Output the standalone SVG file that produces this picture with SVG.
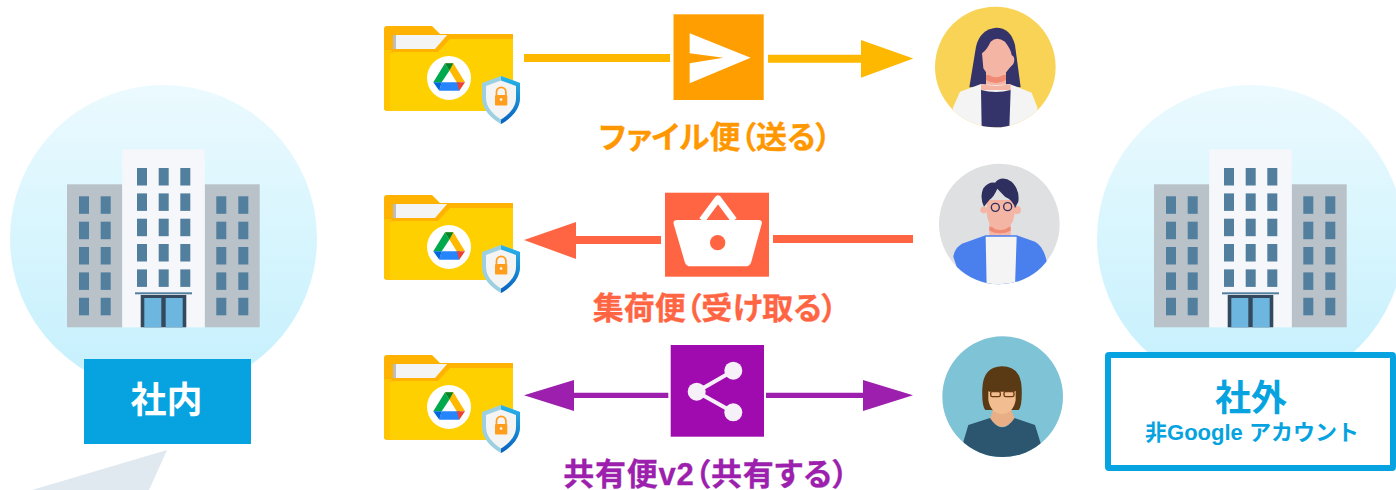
<svg xmlns="http://www.w3.org/2000/svg" xmlns:xlink="http://www.w3.org/1999/xlink" width="1396" height="490" viewBox="0 0 1396 490">
<style>
text{font-family:"Liberation Sans","Noto Sans CJK JP",sans-serif;font-weight:700;text-anchor:middle}
.cjk{font-family:"Noto Sans CJK JP","Liberation Sans",sans-serif}
.win{fill:#527f9e}
.lab{font-size:31px;font-feature-settings:"palt";font-family:"Liberation Sans","Noto Sans CJK JP",sans-serif;stroke-width:.3}
</style>
<defs>
<linearGradient id="sky" x1="0" y1="0" x2="0" y2="1"><stop offset="0" stop-color="#ebfafe"/><stop offset="1" stop-color="#c4f0fd"/></linearGradient>
<linearGradient id="shieldR" x1="0" y1="0" x2="0" y2="1"><stop offset="0" stop-color="#29b6e8"/><stop offset="1" stop-color="#0a5fc0"/></linearGradient>
<clipPath id="c1"><circle cx="226" cy="201" r="181"/></clipPath>
<clipPath id="c2"><circle cx="238" cy="672" r="181"/></clipPath>
<clipPath id="c3"><circle cx="248" cy="230" r="181"/></clipPath>
<g id="building">
<rect x="67" y="184.3" width="55.3" height="143" fill="#b8c2c8"/>
<rect x="204.7" y="184.3" width="55" height="143" fill="#b8c2c8"/>
<rect x="122.3" y="149.3" width="82.4" height="178" fill="#f5f7fa"/>
<g class="win">
<rect x="79" y="196.3" width="10" height="17.5"/><rect x="100.7" y="196.3" width="10" height="17.5"/>
<rect x="79" y="221.7" width="10" height="17.5"/><rect x="100.7" y="221.7" width="10" height="17.5"/>
<rect x="79" y="247" width="10" height="17.5"/><rect x="100.7" y="247" width="10" height="17.5"/>
<rect x="79" y="272.4" width="10" height="17.5"/><rect x="100.7" y="272.4" width="10" height="17.5"/>
<rect x="79" y="297.8" width="10" height="17.5"/><rect x="100.7" y="297.8" width="10" height="17.5"/>
<rect x="216.3" y="196.3" width="10" height="17.5"/><rect x="238.3" y="196.3" width="10" height="17.5"/>
<rect x="216.3" y="221.7" width="10" height="17.5"/><rect x="238.3" y="221.7" width="10" height="17.5"/>
<rect x="216.3" y="247" width="10" height="17.5"/><rect x="238.3" y="247" width="10" height="17.5"/>
<rect x="216.3" y="272.4" width="10" height="17.5"/><rect x="238.3" y="272.4" width="10" height="17.5"/>
<rect x="216.3" y="297.8" width="10" height="17.5"/><rect x="238.3" y="297.8" width="10" height="17.5"/>
<rect x="137" y="168" width="10" height="17.5"/><rect x="158.7" y="168" width="10" height="17.5"/><rect x="180.3" y="168" width="10" height="17.5"/>
<rect x="137" y="193.4" width="10" height="17.5"/><rect x="158.7" y="193.4" width="10" height="17.5"/><rect x="180.3" y="193.4" width="10" height="17.5"/>
<rect x="137" y="218.7" width="10" height="17.5"/><rect x="158.7" y="218.7" width="10" height="17.5"/><rect x="180.3" y="218.7" width="10" height="17.5"/>
<rect x="137" y="244" width="10" height="17.5"/><rect x="158.7" y="244" width="10" height="17.5"/><rect x="180.3" y="244" width="10" height="17.5"/>
<rect x="137" y="269.4" width="10" height="17.5"/><rect x="158.7" y="269.4" width="10" height="17.5"/><rect x="180.3" y="269.4" width="10" height="17.5"/>
</g>
<rect x="135" y="292.3" width="57" height="2" fill="#527f9e"/>
<rect x="140.7" y="295" width="45.6" height="32.3" fill="#34495e"/>
<rect x="144.3" y="298" width="17" height="29.3" fill="#6db6e0"/>
<rect x="165.7" y="298" width="17" height="29.3" fill="#6db6e0"/>
</g>
<g id="folder">
<path d="M387 26H432L440 34H510Q513 34 513 37V108Q513 110.7 510 110.7H387Q384 110.7 384 108V29Q384 26 387 26Z" fill="#ffb300"/>
<path d="M384 50H392V110.7H387Q384 110.7 384 108Z" fill="#ffc400"/>
<rect x="393" y="35" width="55" height="15" fill="#f4f4f4"/>
<rect x="393" y="35" width="3" height="15" fill="#bdbdbd"/>
<path d="M448 38H513V108Q513 110.7 510 110.7H393Q390 110.7 390 108V57Q390 52 395 52H433Q436 52 438 49Z" fill="#ffd000"/>
<path d="M435 49L448 34H513V39H450L438 52H391L393 49Z" fill="#ffb300"/>
<circle cx="449" cy="78" r="22" fill="#fff"/>
<path d="M445 63.3L449.3 70.7L441.7 82.3H433.3Z" fill="#00a94b"/>
<path d="M445 63.3H453.3L465 82.3H456.7Z" fill="#ffba00"/>
<path d="M441.7 82.3H459.8L459.3 90.7H439.3Z" fill="#2684fc"/>
<path d="M433.3 82.3H441.7L439.3 90.7Z" fill="#0066da"/>
<path d="M456.7 82.3H465L459.3 90.7Z" fill="#ea4335"/>
<path d="M445 63.3L449.3 70.7L453.3 63.3Z" fill="#00832d"/>
<path d="M501 76L520 83V98C520 110 510 119 501 124C492 119 482 110 482 98V83Z" fill="#9ccfe0"/>
<path d="M501 76L520 83V98C520 110 510 119 501 124Z" fill="url(#shieldR)"/>
<path d="M501 80.5L516 86V98C516 108 508 115 501 119.5C494 115 486 108 486 98V86Z" fill="#f4f4f4"/>
<path d="M496.5 95V92a4.7 4.7 0 0 1 9.4 0V95" fill="none" stroke="#ff9d1c" stroke-width="1.7"/>
<rect x="495" y="95" width="12.3" height="10.5" rx="1" fill="#ff9d1c"/>
<circle cx="501.1" cy="99.5" r="1.3" fill="#fff"/>
</g>
</defs>

<g id="node-inside">
<circle cx="163.5" cy="238.5" r="153.5" fill="url(#sky)"/>
<use href="#building"/>
<rect x="84" y="359" width="167" height="85" fill="#06a3e0"/>
<text class="cjk" x="166.5" y="413" font-size="36" fill="#fff">社内</text>
</g>
<polygon id="callout" points="167,450 149,490 32,490" fill="#e0e8f0"/>

<g id="node-outside">
<circle cx="1250.5" cy="238.5" r="153.5" fill="url(#sky)"/>
<use href="#building" transform="translate(1087 0)"/>
<rect x="1108" y="355" width="285" height="113" rx="1" fill="#fff" stroke="#06a3e0" stroke-width="6"/>
<text class="cjk" x="1251" y="411" font-size="36" fill="#06a3e0">社外</text>
<text x="1252" y="440" font-size="22" fill="#06a3e0">非Google アカウント</text>
</g>

<g id="connectors">
<g id="conn-send" fill="#ffb800">
<rect x="524" y="54" width="146" height="8"/>
<path d="M768 54.7H861V40L913.3 58.5L861 77.7V62.7H768Z"/>
</g>
<g id="conn-collect" fill="#ff6543">
<path d="M661 236H576V222L524 240L576 259V244H661Z"/>
<rect x="773" y="235" width="140" height="8"/>
</g>
<g id="conn-share" fill="#9c1fad">
<path d="M668.3 392.7H574V380L524 395.3L574 411V398H668.3Z"/>
<path d="M766 392.7H863V380L913 395.3L863 411V398H766Z"/>
</g>
</g>

<g id="folder-1"><use href="#folder"/></g>
<g id="folder-2"><use href="#folder" transform="translate(0 169)"/></g>
<g id="folder-3"><use href="#folder" transform="translate(0 329)"/></g>

<g id="node-send">
<rect x="673.5" y="14.3" width="90.2" height="85.7" fill="#ff9e00"/>
<g transform="translate(590 5) scale(.33333)"><path d="M299 85L482 158L299 235V175L400 158L299 145Z" fill="#fff"/></g>
<text class="lab" x="715" y="148" fill="#ff9800" stroke="#ff9800">ファイル便（送る）</text>
</g>

<g id="node-collect">
<rect x="665" y="192.7" width="104" height="84" fill="#ff6543"/>
<g transform="translate(520 180) scale(.33333)">
<path d="M472 120H716Q728 120 725 132L694 245Q690 259 675 259H513Q498 259 494 245L461 132Q458 120 472 120Z" fill="#fff"/>
<path d="M546 121L594 56L642 121" fill="none" stroke="#fff" stroke-width="20" stroke-linejoin="round"/>
<circle cx="593" cy="188" r="23" fill="#ff6543"/>
</g>
<text class="lab" x="715" y="319" fill="#ff6543" stroke="#ff6543">集荷便（受け取る）</text>
</g>

<g id="node-share">
<rect x="670.7" y="345" width="93.3" height="91.7" fill="#a00bb0"/>
<path d="M733.3 370.7L696.7 391.7L733.3 412.3" fill="none" stroke="#f6f0f8" stroke-width="4"/>
<circle cx="733.3" cy="370.7" r="9" fill="#f6f0f8"/>
<circle cx="696.7" cy="391.7" r="9" fill="#f6f0f8"/>
<circle cx="733.3" cy="412.3" r="9" fill="#f6f0f8"/>
<text class="lab" x="706" y="485" letter-spacing=".8" fill="#9c1fad" stroke="#9c1fad">共有便v2（共有する）</text>
</g>

<g id="person-1" transform="translate(920 0) scale(.33333)">
<circle cx="226" cy="201" r="181" fill="#f9d355"/>
<g clip-path="url(#c1)">
<path d="M148 262L168 140Q180 88 228 83Q272 83 285 135L302 262Z" fill="#35346a"/>
<path d="M198 205H258V255H198Z" fill="#f4b5a4"/>
<path d="M198 225H258V240Q228 258 198 240Z" fill="#f08a75"/>
<path d="M186 160Q200 150 212 125Q230 108 255 125Q274 150 275 165Q288 172 280 192Q272 200 268 205Q250 232 228 232Q205 232 190 205Z" fill="#f4b5a4"/>
<path d="M98 325L120 275L183 252Q230 258 268 252L335 278L353 325L330 400H120Z" fill="#f4f4f4"/>
<path d="M183 252Q228 262 272 252V270H183Z" fill="#f4b5a4"/>
<path d="M183 270Q228 282 272 270L268 385H185Z" fill="#35346a"/>
</g>
</g>

<g id="person-2" transform="translate(920 0) scale(.33333)">
<circle cx="238" cy="672" r="181" fill="#dfe0e1"/>
<g clip-path="url(#c2)">
<circle cx="191" cy="630" r="10" fill="#f4b5a4"/>
<circle cx="291" cy="630" r="12" fill="#f4b5a4"/>
<path d="M208 670H272V712H208Z" fill="#f4b5a4"/>
<path d="M208 680H272V692Q240 708 208 692Z" fill="#f08a75"/>
<path d="M200 600H284V640Q278 690 240 690Q206 690 200 640Z" fill="#f4b5a4"/>
<path d="M192 620Q178 590 190 565Q205 545 225 548Q245 525 275 545Q300 570 295 605L285 625Q280 600 255 590L232 566Q222 590 208 600Z" fill="#2e2f5e"/>
<path d="M100 770Q105 740 130 730L197 706H290L345 725Q372 740 380 785L340 860H130Z" fill="#4a7fee"/>
<path d="M197 710H290L285 860H200Z" fill="#f4f4f4"/>
<circle cx="226" cy="622" r="12" fill="none" stroke="#2e2f5e" stroke-width="4"/>
<circle cx="263" cy="620" r="12" fill="none" stroke="#2e2f5e" stroke-width="4"/>
</g>
</g>

<g id="person-3" transform="translate(920 320) scale(.33333)">
<circle cx="248" cy="230" r="181" fill="#7ec4d6"/>
<g clip-path="url(#c3)">
<path d="M196 270Q185 260 187 205Q190 140 246 139Q303 140 305 205Q307 258 296 270Z" fill="#5a3a14"/>
<path d="M222 260H270L284 296Q246 345 210 296Z" fill="#e8ae85"/>
<path d="M205 213H287V240Q280 280 246 282Q212 280 205 240Z" fill="#f2bd90"/>
<path d="M130 365L145 315L210 294Q246 350 284 294L345 315L362 370L345 420H150Z" fill="#2c5670"/>
<path d="M206 213H285" stroke="#5a3a14" stroke-width="5" fill="none"/>
<rect x="212" y="215" width="29" height="15" rx="5" fill="none" stroke="#6b3a10" stroke-width="4"/>
<rect x="252" y="215" width="30" height="15" rx="5" fill="none" stroke="#6b3a10" stroke-width="4"/>
</g>
</g>
</svg>
